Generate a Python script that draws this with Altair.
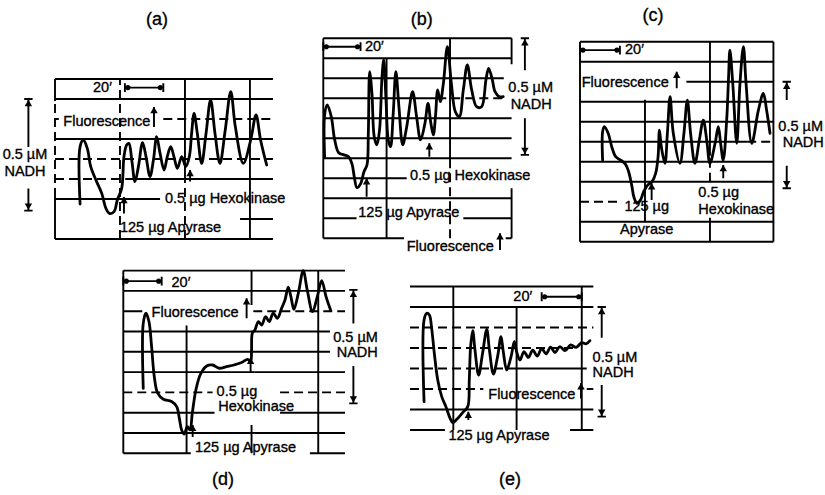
import altair as alt
import pandas as pd

# ---------------------------------------------------------------
# Recorder traces: time (min) vs. fluorescence (chart divisions)
# ---------------------------------------------------------------
a_time = [13.2, 13.2, 14.9, 17.0, 18.8, 21.9, 24.6, 26.8, 28.6, 31.1, 32.8, 35.1,
          36.3, 37.7, 38.9, 40.4, 42.1, 43.9, 46.1, 47.9, 50.0, 51.8, 53.5, 55.3,
          57.4, 59.1, 60.9, 62.6, 64.4, 66.7, 68.8, 70.7, 71.9, 73.2, 74.9, 77.2,
          79.5, 81.9, 84.2, 86.8, 89.6, 92.5, 94.9, 99.1, 103.0, 105.8, 108.2, 111.4]
a_fluor = [1.75, 4.62, 4.95, 4.53, 3.62, 2.87, 2.28, 1.53, 1.28, 1.37, 1.95, 2.53,
           4.12, 4.70, 4.78, 3.95, 2.87, 3.62, 4.82, 4.12, 3.12, 3.95, 5.12, 4.28,
           3.45, 4.12, 4.62, 4.12, 3.53, 4.12, 3.62, 4.12, 5.28, 6.28, 5.28, 3.78,
           5.28, 6.95, 5.28, 3.78, 5.45, 7.37, 5.62, 3.78, 4.95, 6.20, 4.95, 3.70]

b_time = [0.7, 0.7, 2.1, 4.2, 6.0, 8.1, 10.9, 13.3, 15.1, 16.3, 17.7, 19.6,
          21.4, 23.0, 23.7, 24.4, 25.6, 26.8, 28.2, 29.6, 30.9, 31.8, 33.0, 34.2,
          35.4, 36.8, 38.2, 39.8, 41.8, 43.9, 47.0, 49.1, 51.2, 53.5, 55.1, 56.5,
          57.9, 59.1, 60.2, 61.6, 63.2, 65.3, 67.4, 69.5, 71.6, 73.7, 75.8, 78.1,
          80.7, 83.3, 85.6, 87.0, 88.8, 90.4, 92.6, 94.7]
b_fluor = [4.08, 6.17, 6.67, 6.08, 4.92, 4.28, 4.17, 4.08, 3.72, 3.08, 2.53, 2.72,
           3.33, 3.67, 5.25, 8.33, 7.25, 5.08, 4.67, 5.42, 8.08, 8.92, 6.92, 4.92,
           4.58, 6.25, 8.33, 6.58, 4.67, 5.58, 7.33, 6.08, 4.92, 5.75, 6.75, 5.83,
           5.17, 6.17, 7.42, 6.83, 7.75, 9.58, 7.75, 6.33, 6.08, 7.42, 8.67, 7.42,
           6.58, 6.58, 7.92, 8.50, 8.00, 7.33, 7.08, 7.08]

c_time = [11.9, 11.9, 12.8, 14.9, 16.7, 18.8, 21.4, 23.9, 25.6, 27.2, 28.4, 30.0,
          31.8, 33.5, 35.6, 37.9, 39.8, 41.1, 41.8, 42.8, 44.7, 46.0, 47.4, 49.1,
          52.6, 54.7, 56.5, 58.2, 60.5, 62.8, 64.9, 66.7, 68.4, 71.1, 72.8, 74.0,
          75.4, 77.2, 78.2, 78.9, 80.4, 82.5, 84.2, 86.0, 87.4, 90.4, 93.9, 96.5,
          98.2, 100.0]
c_fluor = [4.08, 5.50, 5.75, 5.40, 4.75, 4.25, 4.08, 3.88, 3.50, 2.83, 2.22, 1.92,
           2.08, 2.50, 2.83, 3.00, 3.42, 4.25, 5.58, 4.75, 3.92, 5.42, 7.25, 5.42,
           3.92, 5.42, 7.08, 5.42, 3.92, 5.08, 6.08, 5.08, 3.92, 4.92, 5.75, 4.92,
           4.08, 6.08, 8.25, 9.58, 7.92, 4.92, 7.92, 9.75, 7.92, 4.92, 6.58, 7.42,
           6.58, 5.42]

d_time = [10.5, 10.5, 11.9, 13.5, 14.9, 16.3, 18.1, 21.1, 25.4, 28.1, 29.5, 30.7,
          32.1, 33.7, 35.1, 36.3, 38.2, 40.7, 43.9, 47.0, 50.5, 54.4, 58.2, 62.3,
          65.4, 67.0, 67.5, 67.9, 69.3, 71.1, 72.8, 74.9, 76.8, 78.9, 81.1, 83.3,
          85.1, 86.8, 88.2, 89.8, 92.1, 94.7, 96.8, 99.6, 102.1, 104.4, 106.7, 109.1]
d_fluor = [3.20, 6.40, 6.90, 6.49, 5.25, 3.78, 2.96, 2.66, 2.55, 2.30, 1.72, 1.15,
           0.95, 1.31, 1.15, 1.97, 3.12, 3.91, 4.30, 4.35, 4.19, 4.27, 4.35, 4.47,
           4.63, 4.52, 5.09, 5.91, 6.08, 6.49, 6.32, 6.73, 6.49, 6.90, 6.65, 7.14,
           7.55, 8.18, 7.72, 7.09, 7.88, 9.00, 8.05, 6.98, 7.72, 8.51, 7.72, 7.06]

e_time = [7.4, 7.4, 8.8, 10.2, 11.4, 12.8, 14.6, 16.7, 18.9, 21.1, 22.5, 24.6,
          27.7, 30.4, 31.2, 31.9, 33.0, 34.2, 36.1, 38.2, 40.4, 41.8, 43.9, 46.1,
          47.9, 49.1, 50.9, 53.2, 54.9, 56.1, 57.9, 60.0, 62.3, 64.6, 67.0, 69.3,
          71.6, 74.0, 76.3, 78.9, 81.6, 84.6, 87.4, 90.4, 92.6, 94.7]
e_fluor = [1.38, 5.37, 5.69, 5.61, 4.96, 3.74, 2.44, 1.63, 1.14, 0.57, 0.36, 0.52,
           0.85, 1.14, 2.44, 4.07, 4.85, 3.90, 2.68, 3.74, 4.91, 3.90, 2.73, 3.58,
           4.55, 3.82, 2.93, 3.58, 4.31, 3.82, 3.41, 3.82, 3.54, 3.90, 3.61, 3.98,
           3.71, 4.04, 3.78, 4.07, 3.87, 4.15, 4.03, 4.26, 4.20, 4.36]

traces = {"a": (a_time, a_fluor), "b": (b_time, b_fluor), "c": (c_time, c_fluor),
          "d": (d_time, d_fluor), "e": (e_time, e_fluor)}

# times at which the enzymes were added (min)
apyrase_time = {"a": 36.3, "b": 22.8, "c": 37.7, "d": 36.5, "e": 30.7}
hexokinase_time = {"a": 71.1, "b": 55.8, "c": 75.4, "d": 67.0}

# ---------------------------------------------------------------
# Page layout of the five chart-paper strips
# ---------------------------------------------------------------
PANEL_LEFT = {"a": 55, "b": 323.3, "c": 580, "d": 123.3, "e": 410}
PANEL_BASE = {"a": 239, "b": 238.3, "c": 241.7, "d": 453.3, "e": 430}
DIV_PX = {"a": 20, "b": 20, "c": 20, "d": 20.3, "e": 20.5}
MIN_PX = 1.9  # chart speed, 20 min = 38 px


def px(p, t):
    return PANEL_LEFT[p] + MIN_PX * t


def py(p, f):
    return PANEL_BASE[p] - DIV_PX[p] * f


# horizontal chart-paper lines: (division, from min, to min, style)
grid_h = {
    "a": [(8, 0, 114.7, "solid"), (7, 0, 114.7, "solid"), (6, 0, 2, "solid"),
          (6, 57, 114.7, "dashed"), (5, 0, 114.7, "solid"), (4, 0, 114.7, "dashed"),
          (3, 0, 37, "dashed"), (3, 37, 114.7, "solid"), (2, 0, 55.3, "solid"),
          (1, 97.4, 114.7, "solid"), (0, 0, 114.7, "solid")],
    "b": [(10, 0, 99.1, "solid"), (9, 0, 99.1, "solid"), (8, 0, 95, "solid"),
          (7, 0, 60, "solid"), (7, 60, 95, "dashed"), (6, 0, 99.1, "solid"),
          (5, 0, 99.1, "solid"), (4, 0, 99.1, "solid"), (3, 0, 43.9, "solid"),
          (2, 0, 99.1, "solid"), (1, 0, 17.5, "solid"), (1, 73.7, 99.1, "solid"),
          (0, 0, 42.5, "solid"), (0, 96, 99.1, "solid")],
    "c": [(10, 0, 101.8, "solid"), (9, 0, 101.8, "solid"), (8, 56, 101.8, "solid"),
          (7, 0, 101.8, "solid"), (6, 0, 101.8, "solid"), (5, 0, 88, "solid"),
          (5, 88, 101.8, "dashed"), (4, 0, 101.8, "solid"), (3, 0, 101.8, "solid"),
          (2, 0, 20, "dashed"), (1, 0, 101.8, "solid"), (0, 0, 101.8, "solid")],
    "d": [(9, 0, 116.7, "solid"), (8, 0, 116.7, "solid"), (7, 0, 10, "solid"),
          (7, 68.4, 116.7, "dashed"), (6, 0, 108.8, "solid"), (5, 0, 108.8, "solid"),
          (4, 0, 116.7, "solid"), (3, 0, 47, "dashed"), (3, 82.5, 116.7, "dashed"),
          (2, 0, 48, "solid"), (2, 82.5, 116.7, "solid"), (1, 0, 116.7, "solid"),
          (0, 0, 35.5, "solid"), (0, 98.2, 116.7, "solid")],
    "e": [(7, 0, 96.5, "solid"), (6, 0, 96.5, "solid"), (5, 0, 96.5, "dashed"),
          (4, 0, 86, "dashed"), (3, 0, 56, "dashed"), (3, 56, 93, "solid"),
          (2, 0, 38.6, "dashed"), (2, 93, 96.5, "dashed"), (1, 0, 96.5, "solid"),
          (0, 0, 18.4, "solid"), (0, 84.2, 96.5, "solid")],
}

# vertical chart-paper lines: (min, from division, to division, style)
grid_v = {
    "a": [(0, 0, 2.1, "solid"), (0, 2.1, 6.9, "dashed"), (0, 6.9, 8, "solid"),
          (34.2, 0, 8, "dashed"), (68.4, 3.2, 8, "solid"), (68.4, 0, 3.2, "dashed"),
          (102.6, 0, 8, "solid")],
    "b": [(0, 0, 10, "solid"), (33.3, 0, 9, "solid"), (66.7, 3.5, 10, "solid"),
          (66.7, 0, 3.5, "dashed"), (99.1, 0, 2.5, "solid"), (99.1, 8.7, 10, "solid")],
    "c": [(0, 0, 10, "solid"), (34.2, 1, 7.1, "solid"), (68.4, 4.3, 10, "solid"),
          (68.4, 3.0, 4.3, "dashed"), (68.4, 0, 1.2, "solid"), (101.8, 0, 10, "solid")],
    "d": [(0, 0, 9, "solid"), (33.3, 0, 6.3, "solid"), (67.5, 7.3, 9, "solid"),
          (67.5, 0, 1.4, "solid"), (102.6, 0, 9, "solid")],
    "e": [(22.8, 0, 7, "solid"), (56.1, 0, 6, "solid"), (90.4, 0, 7, "solid")],
}

# 20-minute time bars: (from min, to min, division)
time_bar = {"a": (36.8, 57.0, 7.57), "b": (0, 19.6, 9.58), "c": (0, 21, 9.58),
            "d": (0, 20.2, 8.48), "e": (69.3, 90.4, 6.5)}

# 0.5 uM NADH calibration span: (min, top, upper gap, lower gap, bottom)
nadh_span = {"a": (-14.0, 7.0, 4.6, 2.53, 1.42), "b": (106.1, 10, 8.4, 6.0, 4.17),
             "c": (108.8, 8.0, 7.08, 3.8, 2.67), "d": (121.1, 8.05, 6.4, 4.3, 2.46),
             "e": (100.9, 6.0, 4.5, 2.2, 0.65)}

# upward arrows: (min, tail division, head division)
arrows = {
    "a": [(52.1, 5.6, 6.6), (apyrase_time["a"], 1.28, 2.1), (hexokinase_time["a"], 2.87, 3.45)],
    "b": [(93.0, -0.58, 0.25), (apyrase_time["b"], 2.08, 3.0), (hexokinase_time["b"], 4.08, 4.75)],
    "c": [(50.9, 7.67, 8.5), (apyrase_time["c"], 2.08, 2.92), (hexokinase_time["c"], 3.17, 3.83)],
    "d": [(64.9, 6.65, 7.64), (hexokinase_time["d"], 4.0, 4.7), (apyrase_time["d"], 0.8, 1.4)],
    "e": [(90.0, 1.54, 2.28), (apyrase_time["e"], 0.49, 0.89)],
}

# labels: (panel, min, division, text, anchor)
labels = [
    ("a", 53.7, 10.95, "(a)", "title"), ("a", 20.0, 7.57, "20′", "left"),
    ("a", 4.4, 5.83, "Fluorescence", "left"), ("a", 57.9, 2.0, "0.5 µg Hexokinase", "left"),
    ("a", 34.2, 0.57, "125 µg Apyrase", "left"), ("a", -15.8, 4.2, "0.5 µM", "center"),
    ("a", -15.8, 3.33, "NADH", "center"),
    ("b", 51.8, 10.9, "(b)", "title"), ("b", 21.9, 9.58, "20′", "left"),
    ("b", 97.4, 7.5, "0.5 µM", "left"), ("b", 98.6, 6.67, "NADH", "left"),
    ("b", 45.6, 3.1, "0.5 µg Hexokinase", "left"), ("b", 18.4, 1.25, "125 µg Apyrase", "left"),
    ("b", 43.9, -0.42, "Fluorescence", "left"),
    ("c", 38.4, 11.3, "(c)", "title"), ("c", 23.7, 9.58, "20′", "left"),
    ("c", 0.9, 7.92, "Fluorescence", "left"), ("c", 104.4, 5.75, "0.5 µM", "left"),
    ("c", 106.7, 4.92, "NADH", "left"), ("c", 35.1, 1.75, "125 µg", "center"),
    ("c", 35.1, 0.58, "Apyrase", "center"), ("c", 62.3, 2.42, "0.5 µg", "left"),
    ("c", 62.3, 1.58, "Hexokinase", "left"),
    ("d", 52.5, -1.3, "(d)", "title"), ("d", 25.4, 8.4, "20′", "left"),
    ("d", 14.9, 6.93, "Fluorescence", "left"), ("d", 110.5, 5.67, "0.5 µM", "left"),
    ("d", 112.3, 4.93, "NADH", "left"), ("d", 49.1, 3.04, "0.5 µg", "left"),
    ("d", 50.0, 2.3, "Hexokinase", "left"), ("d", 37.7, 0.25, "125 µg Apyrase", "left"),
    ("e", 52.6, -2.44, "(e)", "title"), ("e", 54.4, 6.5, "20′", "left"),
    ("e", 96.1, 3.5, "0.5 µM", "left"), ("e", 96.1, 2.76, "NADH", "left"),
    ("e", 41.2, 1.71, "Fluorescence", "left"), ("e", 20.2, -0.29, "125 µg Apyrase", "left"),
]

# ---------------------------------------------------------------
# Tables in page coordinates
# ---------------------------------------------------------------
trace_rows = []
for p, (ts, fs) in traces.items():
    for i, (t, f) in enumerate(zip(ts, fs)):
        trace_rows.append({"panel": p, "seq": i, "x": px(p, t), "y": py(p, f)})
trace_df = pd.DataFrame(trace_rows)

rule_rows = []


def add_rule(x1, x2, y1, y2, style="solid"):
    rule_rows.append({"x1": x1, "x2": x2, "y1": y1, "y2": y2, "style": style})


for p, rows in grid_h.items():
    for f, t1, t2, s in rows:
        add_rule(px(p, t1), px(p, t2), py(p, f), py(p, f), s)
for p, rows in grid_v.items():
    for t, f1, f2, s in rows:
        add_rule(px(p, t), px(p, t), py(p, f1), py(p, f2), s)

head_up, head_down, dots = [], [], []
for p, (t1, t2, f) in time_bar.items():
    add_rule(px(p, t1), px(p, t2), py(p, f), py(p, f))
    for t in (t1, t2):
        add_rule(px(p, t), px(p, t), py(p, f + 0.22), py(p, f - 0.22))
    dots.append({"x": px(p, t1) + 3, "y": py(p, f)})
    dots.append({"x": px(p, t2) - 3, "y": py(p, f)})

for p, (t, top, g1, g2, bot) in nadh_span.items():
    add_rule(px(p, t), px(p, t), py(p, top), py(p, g1))
    add_rule(px(p, t), px(p, t), py(p, g2), py(p, bot))
    for f in (top, bot):
        add_rule(px(p, t - 2.2), px(p, t + 2.2), py(p, f), py(p, f))
    head_up.append({"x": px(p, t), "y": py(p, top) + 4})
    head_down.append({"x": px(p, t), "y": py(p, bot) - 4})

for p, rows in arrows.items():
    for t, f1, f2 in rows:
        add_rule(px(p, t), px(p, t), py(p, f1), py(p, f2))
        head_up.append({"x": px(p, t), "y": py(p, f2) + 3})

rule_df = pd.DataFrame(rule_rows)
up_df = pd.DataFrame(head_up)
down_df = pd.DataFrame(head_down)
dot_df = pd.DataFrame(dots)

label_df = pd.DataFrame([{"x": px(p, t), "y": py(p, f), "text": s, "anchor": a}
                         for p, t, f, s, a in labels])

# ---------------------------------------------------------------
# Chart
# ---------------------------------------------------------------
XS = alt.Scale(domain=[0, 825], nice=False, zero=False)
YS = alt.Scale(domain=[0, 495], nice=False, zero=False, reverse=True)


def X(field):
    return alt.X(f"{field}:Q", scale=XS, axis=None)


def Y(field):
    return alt.Y(f"{field}:Q", scale=YS, axis=None)


rules = alt.Chart(rule_df).mark_rule(color="black", strokeWidth=1.9).encode(
    x=X("x1"), x2="x2:Q", y=Y("y1"), y2="y2:Q",
    strokeDash=alt.StrokeDash("style:N", legend=None,
                              scale=alt.Scale(domain=["solid", "dashed"],
                                              range=[[1, 0], [9, 5]])),
)

lines = alt.Chart(trace_df).mark_line(
    color="black", strokeWidth=2.8, interpolate="catmull-rom",
    strokeJoin="round", strokeCap="round",
).encode(x=X("x"), y=Y("y"), detail="panel:N", order="seq:Q")

ups = alt.Chart(up_df).mark_point(shape="triangle-up", filled=True, size=55,
                                  color="black", opacity=1).encode(x=X("x"), y=Y("y"))
downs = alt.Chart(down_df).mark_point(shape="triangle-down", filled=True, size=55,
                                      color="black", opacity=1).encode(x=X("x"), y=Y("y"))
ends = alt.Chart(dot_df).mark_point(shape="circle", filled=True, size=26,
                                    color="black", opacity=1).encode(x=X("x"), y=Y("y"))

FONT = "Liberation Sans"
TEXT_STYLE = dict(baseline="middle", font=FONT, color="black",
                  stroke="black", strokeWidth=0.35)
text_left = alt.Chart(label_df).transform_filter(alt.datum.anchor == "left").mark_text(
    align="left", fontSize=14.5, **TEXT_STYLE
).encode(x=X("x"), y=Y("y"), text="text:N")
text_center = alt.Chart(label_df).transform_filter(alt.datum.anchor == "center").mark_text(
    align="center", fontSize=14.5, **TEXT_STYLE
).encode(x=X("x"), y=Y("y"), text="text:N")
titles = alt.Chart(label_df).transform_filter(alt.datum.anchor == "title").mark_text(
    align="center", fontSize=18, **TEXT_STYLE
).encode(x=X("x"), y=Y("y"), text="text:N")

chart = alt.layer(rules, lines, ups, downs, ends, text_left, text_center, titles).properties(
    width=825, height=495, padding=0,
    autosize=alt.AutoSizeParams(type="none"),
    background="white",
).configure_view(stroke=None)

chart.save("out.html", embed_options={"renderer": "svg", "actions": False})
